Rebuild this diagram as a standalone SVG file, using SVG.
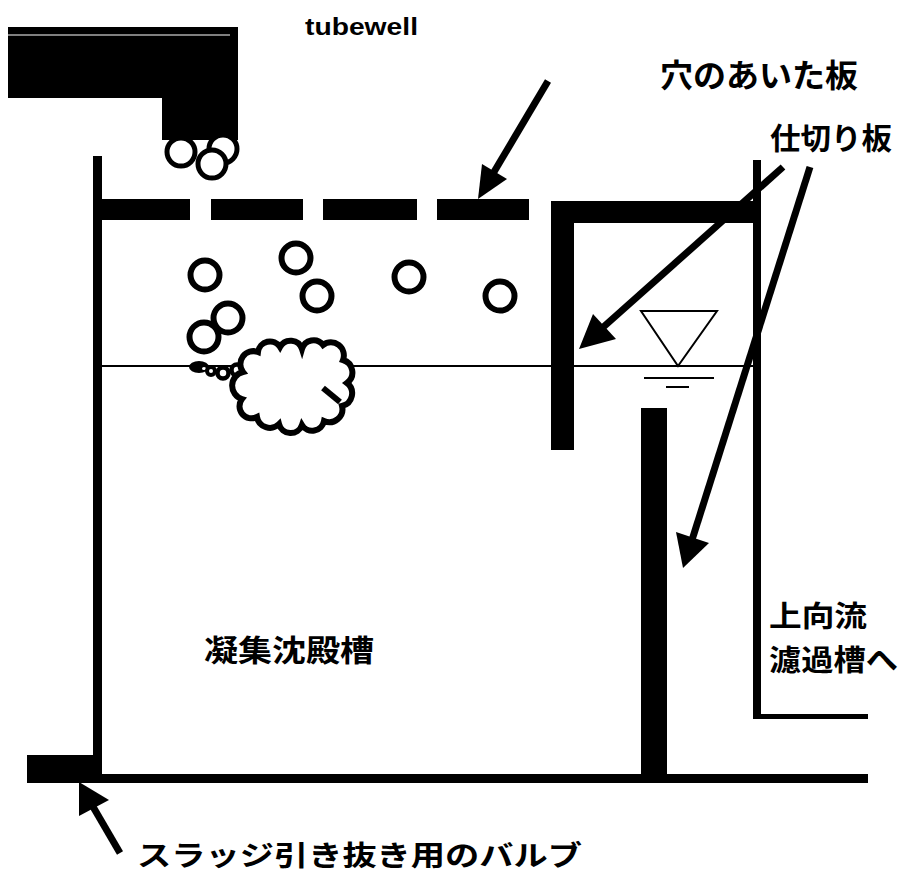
<svg xmlns="http://www.w3.org/2000/svg" width="904" height="874" viewBox="0 0 904 874">
  <style>
    .solid { fill: #000; }
    .ring { fill: #fff; stroke: #000; stroke-width: 6; }
    .ring-sm { fill: #fff; stroke: #000; stroke-width: 5; }
    .thin { fill: none; stroke: #000; stroke-width: 2; }
    .shaft { fill: none; stroke: #000; stroke-width: 7; stroke-linecap: butt; }
    .jp { font-family: "Noto Sans CJK JP", "Noto Sans", sans-serif; font-weight: 700; fill: #000; }
    .en { font-family: "Liberation Sans", Arial, sans-serif; font-weight: 700; fill: #000; }
  </style>

  <rect width="904" height="874" fill="#fff"/>

  <!-- inlet pipe from the tubewell -->
  <g id="tubewell">
    <rect class="solid" x="8" y="27" width="230" height="71"/>
    <rect class="solid" x="162" y="27" width="76" height="113"/>
    <line x1="8" y1="35" x2="230" y2="35" stroke="#fff" stroke-width="1"/>
    <circle class="ring-sm" cx="223" cy="149" r="14"/>
    <circle class="ring-sm" cx="181" cy="152" r="14"/>
    <circle class="ring-sm" cx="212" cy="164" r="14"/>
  </g>

  <!-- tank walls and floor -->
  <g id="tank">
    <rect class="solid" x="93" y="156" width="9" height="627"/>
    <rect class="solid" x="93" y="774" width="775" height="9"/>
    <rect class="solid" x="753" y="160" width="8" height="559"/>
    <rect class="solid" x="753" y="714" width="115" height="5"/>
  </g>

  <!-- sludge drain valve -->
  <g id="valve">
    <rect class="solid" x="27" y="755" width="73" height="28"/>
  </g>

  <!-- perforated plate -->
  <g id="perforated-plate">
    <rect class="solid" x="102" y="199" width="88" height="21"/>
    <rect class="solid" x="211" y="199" width="92" height="21"/>
    <rect class="solid" x="323" y="199" width="94" height="21"/>
    <rect class="solid" x="437" y="199" width="92" height="21"/>
  </g>

  <!-- partition plates -->
  <g id="partition-upper">
    <rect class="solid" x="551" y="201" width="210" height="22"/>
    <rect class="solid" x="551" y="201" width="23" height="249"/>
  </g>
  <g id="partition-lower">
    <rect class="solid" x="641" y="408" width="26" height="370"/>
  </g>

  <!-- water surface -->
  <g id="water-surface">
    <line class="thin" x1="102" y1="366" x2="753" y2="366"/>
    <polygon points="641,311 717,311 678,366" fill="none" stroke="#000" stroke-width="2"/>
    <line class="thin" x1="644" y1="378" x2="714" y2="378"/>
    <line class="thin" x1="666" y1="387" x2="689" y2="387"/>
  </g>

  <!-- rising air bubbles -->
  <g id="bubbles">
    <circle class="ring" cx="205" cy="275" r="14.5"/>
    <circle class="ring" cx="296" cy="258" r="14.5"/>
    <circle class="ring" cx="317" cy="296" r="14.5"/>
    <circle class="ring" cx="409" cy="277" r="14.5"/>
    <circle class="ring" cx="500" cy="296" r="14.5"/>
    <circle class="ring" cx="228" cy="318" r="14.5"/>
    <circle class="ring" cx="204" cy="337" r="14.5"/>
  </g>

  <!-- floc floating at the surface -->
  <g id="floc">
    <ellipse class="solid" cx="199" cy="367" rx="10" ry="6"/>
    <ellipse cx="204" cy="368.5" rx="2" ry="1.6" fill="#fff"/>
    <circle cx="211" cy="371" r="4" fill="#fff" stroke="#000" stroke-width="4"/>
    <circle cx="223" cy="373" r="5.5" fill="#fff" stroke="#000" stroke-width="4.5"/>
    <circle cx="237" cy="370" r="5.5" fill="#fff" stroke="#000" stroke-width="4.5"/>
    <path class="ring" d="M243,372 A13 13 0 0 1 258,352 A12 12 0 0 1 280,347 A12 12 0 0 1 302,349 A12 12 0 0 1 323,345 A13 13 0 0 1 343,360 A13 13 0 0 1 347,383 A13 13 0 0 1 342,406 A13 13 0 0 1 324,421 A12 12 0 0 1 302,425 A12 12 0 0 1 279,424 A13 13 0 0 1 257,417 A12 12 0 0 1 242,399 A14 14 0 0 1 243,372 Z"/>
    <line x1="323" y1="388" x2="340" y2="402" stroke="#000" stroke-width="6"/>
  </g>

  <!-- leader arrows -->
  <g id="connectors">
    <line class="shaft" x1="548" y1="81" x2="491" y2="177"/>
    <polygon class="solid" points="478,199 507,179 482,164"/>

    <line class="shaft" x1="783" y1="167" x2="600" y2="330"/>
    <polygon class="solid" points="579,349 616,339 593,314"/>

    <line class="shaft" x1="810" y1="167" x2="692" y2="540"/>
    <polygon class="solid" points="683,568 709,543 676,532"/>

    <line class="shaft" x1="120" y1="853" x2="92" y2="805"/>
    <polygon class="solid" points="79,782 109,800 79,816"/>
  </g>

  <!-- labels -->
  <g id="labels">
    <text class="en" x="305" y="35" font-size="24" textLength="113" lengthAdjust="spacingAndGlyphs">tubewell</text>
    <text class="jp" x="660" y="87" font-size="32" textLength="198" lengthAdjust="spacingAndGlyphs">穴のあいた板</text>
    <text class="jp" x="770" y="149" font-size="30" textLength="122" lengthAdjust="spacingAndGlyphs">仕切り板</text>
    <text class="jp" x="204" y="661" font-size="30" textLength="170" lengthAdjust="spacingAndGlyphs">凝集沈殿槽</text>
    <text class="jp" x="769" y="627" font-size="29" textLength="98" lengthAdjust="spacingAndGlyphs">上向流</text>
    <text class="jp" x="769" y="671" font-size="29" textLength="129" lengthAdjust="spacingAndGlyphs">濾過槽へ</text>
    <text class="jp" x="137" y="866" font-size="28" textLength="445" lengthAdjust="spacingAndGlyphs">スラッジ引き抜き用のバルブ</text>
  </g>
</svg>
